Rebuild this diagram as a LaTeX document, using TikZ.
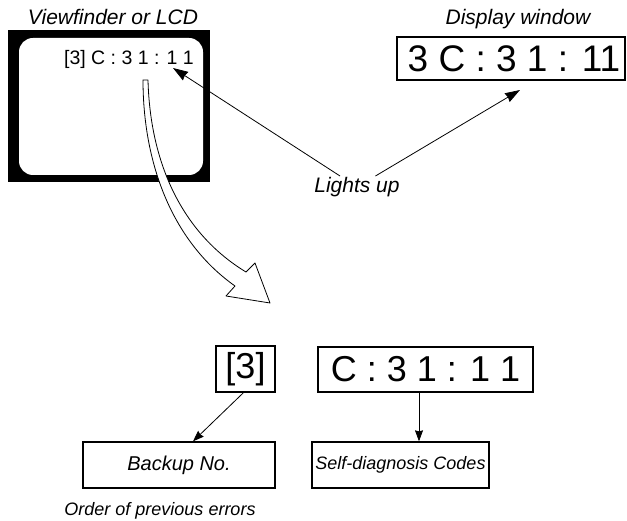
\documentclass[tikz,border=0pt]{standalone}
\usepackage{fontspec}
\setmainfont{Liberation Sans}
\usetikzlibrary{arrows.meta}

\begin{document}
\begin{tikzpicture}[x=1pt,y=-1pt,
  codebox/.style={draw,line width=1.3pt,inner sep=0pt,font=\fontsize{36}{36}\selectfont},
  namebox/.style={draw,line width=1.3pt,inner sep=0pt,minimum height=46pt,font=\fontsize{20}{20}\selectfont\itshape},
  caption/.style={inner sep=1pt,font=\fontsize{21}{21}\selectfont\itshape},
  pointer/.style={line width=0.8pt,-{Stealth[length=15pt,width=10pt,inset=1pt]}},
  smallpointer/.style={line width=0.8pt,-{Stealth[length=11pt,width=8pt,inset=1pt]}}]
  \useasboundingbox (0,0) rectangle (627,521);
  % viewfinder screen
  \fill (8,30) rectangle (210,182);
  \fill[white,rounded corners=14pt] (19,38) rectangle (203,175);
  \node[caption,anchor=base] (vftitle) at (113,25) {Viewfinder or LCD};
  \node[inner sep=0pt,anchor=base,font=\fontsize{19.5}{19.5}\selectfont] (vfcode) at (129,65) {[3] C : 3 1 : 1 1};
  % display window
  \node[caption,anchor=base] (dwtitle) at (518,25) {Display window};
  \node[codebox,minimum width=228pt,minimum height=43pt,font=\fontsize{37}{37}\selectfont] (dwcode) at (511,58.5) {\hspace*{6pt}3 C : 3 1 : 11};
  % lights up
  \node[caption] (lights) at (357,187) {Lights up};
  \coordinate (vftip) at (173,68);
  \coordinate (dwtip) at (520,90);
  \draw[pointer] (lights) -- (vftip);
  \draw[pointer] (lights) -- (dwtip);
  % hollow curved arrow
  \draw[line width=0.8pt,fill=white,line join=round]
    (143,80) .. controls (143,160) and (170,240) .. (235,286)
    -- (226,296) -- (270,303) -- (255,263) -- (246,272)
    .. controls (180,232) and (150,160) .. (148,80) -- cycle;
  % split code
  \node[codebox,minimum width=59pt,minimum height=46pt] (bkcode) at (245.5,369) {[3]};
  \node[codebox,minimum width=215pt,minimum height=45pt] (sdcode) at (425.5,369.5) {C : 3 1 : 1 1};
  \node[namebox,minimum width=192pt] (backup) at (179,465) {Backup No.};
  \node[namebox,minimum width=177pt,font=\fontsize{18}{18}\selectfont\itshape] (selfdiag) at (400.5,465) {Self-diagnosis Codes};
  \node[caption,anchor=base,font=\fontsize{18}{18}\selectfont\itshape] (order) at (160,515) {Order of previous errors};
  \draw[smallpointer] ([xshift=-2pt]bkcode.south) -- ([xshift=14pt]backup.north);
  \draw[smallpointer] ([xshift=-6.5pt]sdcode.south) -- ([xshift=-6.5pt]sdcode.south |- selfdiag.north);
\end{tikzpicture}
\end{document}
